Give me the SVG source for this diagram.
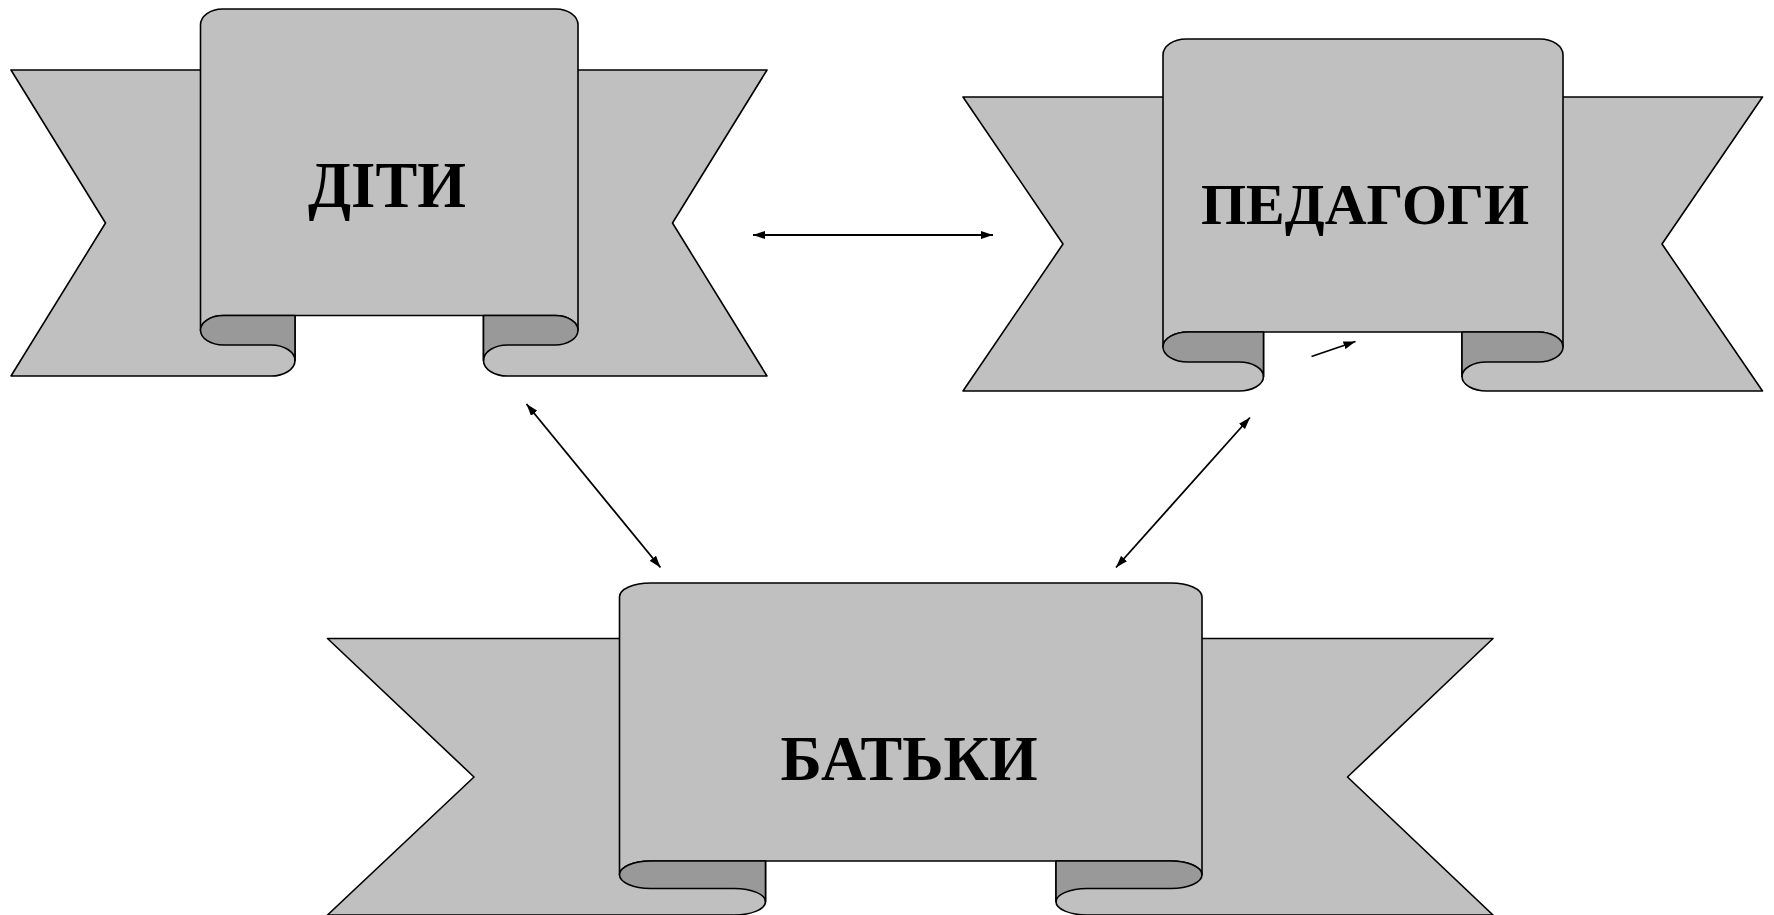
<svg xmlns="http://www.w3.org/2000/svg" width="1774" height="915" viewBox="0 0 1774 915">
<style>
.lt{fill:#c0c0c0;stroke:#000;stroke-width:1.6;stroke-linejoin:round}
.dk{fill:#999999;stroke:#000;stroke-width:1.6;stroke-linejoin:round}
.lbl{font-family:"Liberation Serif","Times New Roman",serif;font-weight:bold;fill:#000;text-anchor:middle}
.cn{stroke:#000;stroke-width:1.8;fill:none}
</style>
<defs>
<marker id="ah" markerUnits="userSpaceOnUse" markerWidth="12" markerHeight="8" refX="12" refY="4" orient="auto-start-reverse">
<path d="M0,0 L12,4 L0,8 Z" fill="#000"/>
</marker>
</defs>
<rect width="1774" height="915" fill="#fff"/>
<g id="node-diti">
<path class="lt" d="M11,70 H295 V360.5 A24,15.5 0 0 1 271,376 H11 L105.5,223 Z"/>
<path class="lt" d="M767,70 H483.5 V360.5 A24,15.5 0 0 0 507.5,376 H767 L672.5,223 Z"/>
<path class="lt" d="M200.5,330.25 V25 A22,16 0 0 1 222.5,9 H556 A22,16 0 0 1 578,25 V330.25 A23,14.75 0 0 0 555,315.5 H223.5 A23,14.75 0 0 0 200.5,330.25 Z"/>
<path class="dk" d="M223.5,315.5 H295 V360.5 A24,15.5 0 0 0 271,345 H223.5 A23,14.75 0 0 1 223.5,315.5 Z"/>
<path class="dk" d="M555,315.5 H483.5 V360.5 A24,15.5 0 0 1 507.5,345 H555 A23,14.75 0 0 0 555,315.5 Z"/>
<text class="lbl" x="387" y="207" font-size="66" textLength="158" lengthAdjust="spacingAndGlyphs">ДІТИ</text>
</g>
<g id="node-pedagogy">
<path class="lt" d="M963,97 H1263.5 V376.5 A24.5,14.5 0 0 1 1239,391 H963 L1063,244 Z"/>
<path class="lt" d="M1762.5,97 H1462 V376.5 A24.5,14.5 0 0 0 1486.5,391 H1762.5 L1662,244 Z"/>
<path class="lt" d="M1163,347 V55 A23,16 0 0 1 1186,39 H1540 A23,16 0 0 1 1563,55 V347 A25,15 0 0 0 1538,332 H1188 A25,15 0 0 0 1163,347 Z"/>
<path class="dk" d="M1188,332 H1263.5 V376.5 A24.5,14.5 0 0 0 1239,362 H1188 A25,15 0 0 1 1188,332 Z"/>
<path class="dk" d="M1538,332 H1462 V376.5 A24.5,14.5 0 0 1 1486.5,362 H1538 A25,15 0 0 0 1538,332 Z"/>
<text class="lbl" x="1365" y="224" font-size="58" textLength="328" lengthAdjust="spacingAndGlyphs">ПЕДАГОГИ</text>
</g>
<g id="node-parents">
<path class="lt" d="M327.5,638.5 H765.5 V901.75 A31,13.25 0 0 1 734.5,915 H327.5 L474,777 Z"/>
<path class="lt" d="M1493,638.5 H1056 V901.75 A31,13.25 0 0 0 1087,915 H1493 L1347.5,777 Z"/>
<path class="lt" d="M619.5,874.75 V597 A31,14 0 0 1 650.5,583 H1171 A31,14 0 0 1 1202,597 V874.75 A31,13.75 0 0 0 1171,861 H650.5 A31,13.75 0 0 0 619.5,874.75 Z"/>
<path class="dk" d="M650.5,861 H765.5 V901.75 A31,13.25 0 0 0 734.5,888.5 H650.5 A31,13.75 0 0 1 650.5,861 Z"/>
<path class="dk" d="M1171,861 H1056 V901.75 A31,13.25 0 0 1 1087,888.5 H1171 A31,13.75 0 0 0 1171,861 Z"/>
<text class="lbl" x="909" y="780" font-size="63" textLength="257" lengthAdjust="spacingAndGlyphs">БАТЬКИ</text>
</g>
<g id="connectors">
<line class="cn" x1="753" y1="235" x2="993" y2="235" marker-start="url(#ah)" marker-end="url(#ah)"/>
<line class="cn" x1="526.5" y1="404" x2="660.5" y2="567.5" marker-start="url(#ah)" marker-end="url(#ah)"/>
<line class="cn" x1="1250" y1="417.5" x2="1116" y2="567.5" marker-start="url(#ah)" marker-end="url(#ah)"/>
<line class="cn" x1="1311.5" y1="356.5" x2="1355.5" y2="341.5" marker-end="url(#ah)"/>
</g>
</svg>
